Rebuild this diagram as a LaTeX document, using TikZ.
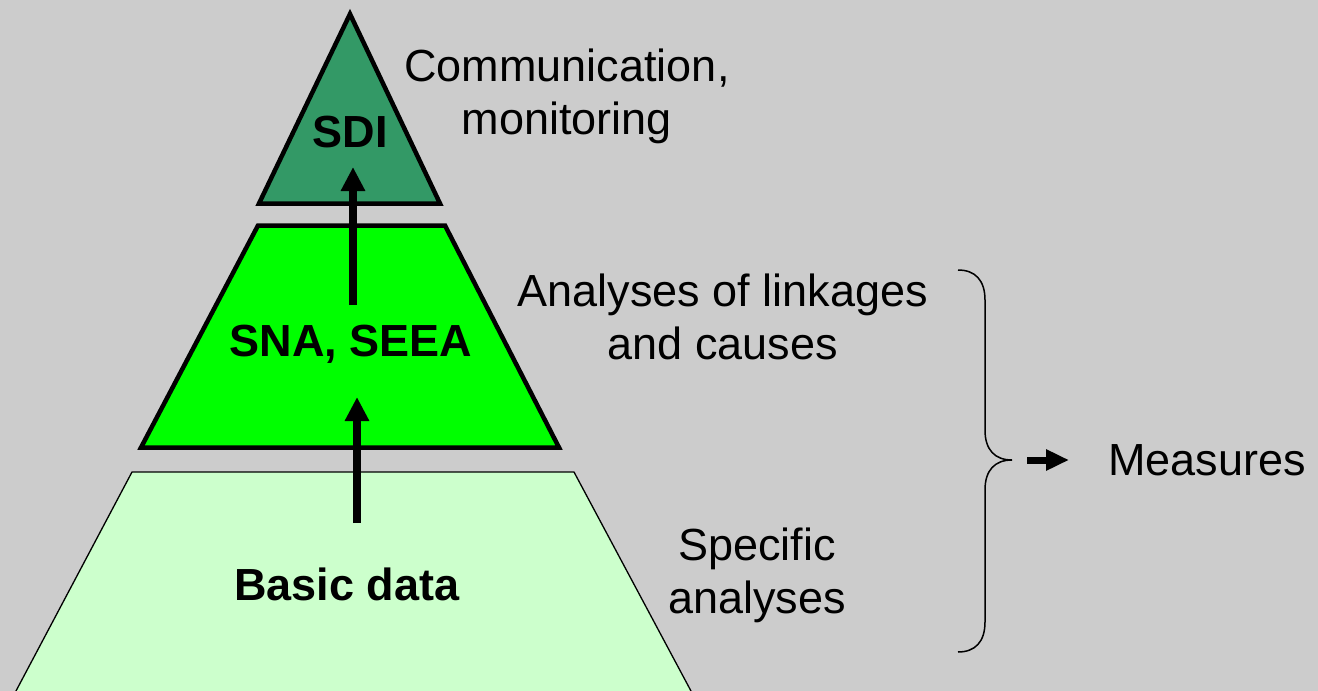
\documentclass[tikz,border=0pt]{standalone}
\usepackage{fontspec}
\setmainfont{Liberation Sans}
\usetikzlibrary{arrows.meta}
\definecolor{bgc}{HTML}{CCCCCC}
\definecolor{topc}{HTML}{339966}
\definecolor{midc}{HTML}{00FF00}
\definecolor{basec}{HTML}{CCFFCC}
\begin{document}
\begin{tikzpicture}[x=1pt,y=-1pt,
  lbl/.style={font=\fontsize{45}{53}\selectfont, align=center, inner sep=0pt},
  ttl/.style={font=\fontsize{45}{53}\selectfont\bfseries, inner sep=0pt},
  tier/.style={draw=black, line width=4.5pt, line join=miter},
  uparrow/.style={line width=8pt, -{Triangle[length=24pt,width=23pt]}},
  smallarrow/.style={line width=7pt, -{Triangle[length=23pt,width=20pt]}},
  bracestyle/.style={line width=1.5pt}]
\fill[bgc] (0,0) rectangle (1318,691);
\useasboundingbox (0,0) rectangle (1318,691);
% tiers
\draw[fill=basec, line width=1.3pt] (132,472) -- (574,472) -- (695.8,700) -- (11.2,700) -- cycle;
\draw[tier, fill=midc] (258,225.5) -- (445,225.5) -- (559,447.5) -- (141,447.5) -- cycle;
\draw[tier, fill=topc] (350,14) -- (440,203.5) -- (259,203.5) -- cycle;
% tier titles
\node[ttl] (sdi) at (350,132) {SDI};
\node[ttl] (sna) at (351,344) {SNA, SEEA};
\node[ttl] (basic) at (347,584) {Basic data};
% arrows
\coordinate (b1) at (357,523);
\coordinate (t1) at (357,397);
\coordinate (b2) at (353,305);
\coordinate (t2) at (353,167);
\draw[uparrow] (b1) -- (t1);
\draw[uparrow] (b2) -- (t2);
% side labels
\node[lbl] (comm) at (567,96) {Communication,\\monitoring};
\node[lbl] (link) at (723,317) {Analyses of linkages\\and causes};
\node[lbl] (spec) at (757,575) {Specific\\analyses};
\node[lbl, anchor=west] (meas) at (1108,460) {Measures};
% brace
\coordinate (btop) at (958,270);
\coordinate (btip) at (1012,460);
\coordinate (bbot) at (958,652);
\draw[bracestyle] (btop) .. controls (975,270) and (985,280) .. (985,300) -- (985,430)
  .. controls (985,450) and (995,460) .. (btip)
  .. controls (995,460) and (985,470) .. (985,490) -- (985,622)
  .. controls (985,642) and (975,652) .. (bbot);
\coordinate (ms) at (1027,460);
\coordinate (me) at (1069,460);
\draw[smallarrow] (ms) -- (me);
\end{tikzpicture}
\end{document}
